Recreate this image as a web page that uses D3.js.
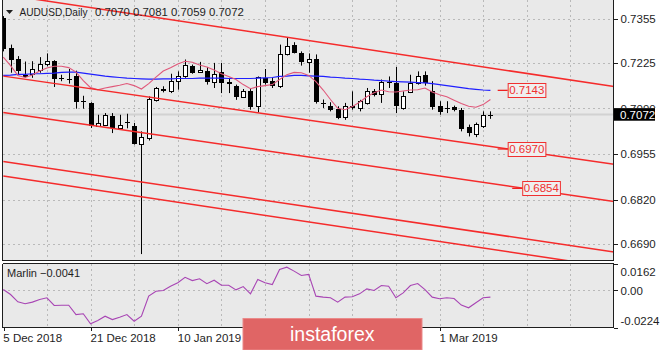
<!DOCTYPE html>
<html>
<head>
<meta charset="utf-8">
<script src="https://cdn.jsdelivr.net/npm/d3@7"></script>
<style>
  body { margin: 0; background: #ffffff; }
  svg text { font-family: "Liberation Sans", Arial, sans-serif; }
</style>
</head>
<body>
<svg id="chart" width="665" height="350"></svg>
<script>
// ---- AUDUSD daily bars ----
const dates = [
  "2018-12-05","2018-12-06","2018-12-07","2018-12-10","2018-12-11","2018-12-12","2018-12-13","2018-12-14",
  "2018-12-17","2018-12-18","2018-12-19","2018-12-20","2018-12-21","2018-12-24","2018-12-26","2018-12-27",
  "2018-12-28","2018-12-31","2019-01-02","2019-01-03","2019-01-04","2019-01-07","2019-01-08","2019-01-09",
  "2019-01-10","2019-01-11","2019-01-14","2019-01-15","2019-01-16","2019-01-17","2019-01-18","2019-01-21",
  "2019-01-22","2019-01-23","2019-01-24","2019-01-25","2019-01-28","2019-01-29","2019-01-30","2019-01-31",
  "2019-02-01","2019-02-04","2019-02-05","2019-02-06","2019-02-07","2019-02-08","2019-02-11","2019-02-12",
  "2019-02-13","2019-02-14","2019-02-15","2019-02-18","2019-02-19","2019-02-20","2019-02-21","2019-02-22",
  "2019-02-25","2019-02-26","2019-02-27","2019-02-28","2019-03-01","2019-03-04","2019-03-05","2019-03-06",
  "2019-03-07","2019-03-08","2019-03-11","2019-03-12"
];
const opens = [
  0.7357,0.7269,0.7236,0.7189,0.7192,0.7204,0.7221,0.7229,0.7180,0.7178,0.7184,0.7114,0.7106,0.7039,0.7042,0.7066,
  0.7031,0.7049,0.7037,0.6985,0.7002,0.7115,0.7148,0.7140,0.7172,0.7184,0.7214,0.7197,0.7201,0.7167,0.7196,0.7168,
  0.7157,0.7124,0.7142,0.7096,0.7180,0.7170,0.7155,0.7249,0.7278,0.7254,0.7227,0.7236,0.7107,0.7098,0.7088,0.7064,
  0.7096,0.7091,0.7106,0.7140,0.7133,0.7168,0.7165,0.7091,0.7137,0.7165,0.7189,0.7140,0.7096,0.7090,0.7093,0.7086,
  0.7035,0.7014,0.7037,0.7070
];
const highs = [
  0.7362,0.7278,0.7244,0.7228,0.7229,0.7241,0.7252,0.7232,0.7189,0.7206,0.7201,0.7127,0.7108,0.7071,0.7076,0.7076,
  0.7071,0.7074,0.7047,0.7022,0.7125,0.7153,0.7155,0.7192,0.7199,0.7234,0.7219,0.7227,0.7212,0.7224,0.7224,0.7180,
  0.7160,0.7147,0.7150,0.7184,0.7206,0.7180,0.7278,0.7298,0.7285,0.7258,0.7252,0.7249,0.7116,0.7108,0.7096,0.7106,
  0.7140,0.7115,0.7150,0.7147,0.7175,0.7184,0.7212,0.7140,0.7189,0.7199,0.7199,0.7170,0.7111,0.7111,0.7098,0.7091,
  0.7042,0.7048,0.7081,0.7081
];
const lows = [
  0.7258,0.7195,0.7189,0.7180,0.7180,0.7195,0.7214,0.7153,0.7170,0.7163,0.7089,0.7089,0.7032,0.7038,0.7039,0.7017,
  0.7030,0.7031,0.6983,0.6660,0.6995,0.7110,0.7137,0.7135,0.7145,0.7180,0.7192,0.7195,0.7160,0.7150,0.7135,0.7135,
  0.7115,0.7121,0.7086,0.7078,0.7160,0.7150,0.7150,0.7246,0.7252,0.7216,0.7195,0.7104,0.7091,0.7081,0.7058,0.7056,
  0.7086,0.7081,0.7101,0.7125,0.7106,0.7150,0.7076,0.7086,0.7135,0.7160,0.7157,0.7086,0.7071,0.7076,0.7081,0.7022,
  0.7007,0.7005,0.7032,0.7059
];
const closes = [
  0.7266,0.7234,0.7199,0.7183,0.7206,0.7221,0.7229,0.7177,0.7176,0.7177,0.7108,0.7111,0.7037,0.7047,0.7070,0.7032,
  0.7040,0.7051,0.6985,0.7004,0.7118,0.7149,0.7142,0.7172,0.7184,0.7219,0.7195,0.7204,0.7168,0.7192,0.7165,0.7162,
  0.7122,0.7140,0.7093,0.7182,0.7165,0.7157,0.7249,0.7275,0.7254,0.7226,0.7236,0.7108,0.7105,0.7086,0.7061,0.7098,
  0.7090,0.7112,0.7140,0.7130,0.7167,0.7170,0.7096,0.7125,0.7165,0.7184,0.7165,0.7093,0.7078,0.7092,0.7084,0.7029,
  0.7017,0.7044,0.7069,0.7072
];

// ---- moving averages (slow = blue, fast = crimson) ----
const maSlow = [
  0.7187,0.7188,0.7190,0.7190,0.7192,0.7192,0.7193,0.7194,0.7196,0.7197,0.7197,0.7194,0.7191,0.7188,0.7185,0.7183,
  0.7181,0.7179,0.7178,0.7177,0.7176,0.7176,0.7177,0.7177,0.7178,0.7178,0.7178,0.7179,0.7179,0.7179,0.7179,0.7178,
  0.7178,0.7178,0.7178,0.7179,0.7180,0.7181,0.7184,0.7185,0.7187,0.7187,0.7186,0.7185,0.7184,0.7182,0.7181,0.7179,
  0.7178,0.7176,0.7175,0.7173,0.7172,0.7170,0.7169,0.7168,0.7167,0.7166,0.7165,0.7163,0.7160,0.7157,0.7154,0.7151,
  0.7148,0.7146,0.7144,0.7143
];
const maFast = [
  0.7241,0.7216,0.7187,0.7181,0.7188,0.7200,0.7209,0.7214,0.7214,0.7210,0.7197,0.7172,0.7151,0.7145,0.7150,0.7154,
  0.7158,0.7163,0.7157,0.7147,0.7163,0.7182,0.7200,0.7210,0.7221,0.7229,0.7226,0.7218,0.7212,0.7203,0.7192,0.7184,
  0.7175,0.7160,0.7148,0.7154,0.7157,0.7160,0.7175,0.7189,0.7196,0.7195,0.7187,0.7169,0.7144,0.7116,0.7090,0.7086,
  0.7095,0.7108,0.7124,0.7136,0.7144,0.7139,0.7138,0.7141,0.7144,0.7145,0.7150,0.7138,0.7130,0.7124,0.7114,0.7104,
  0.7096,0.7093,0.7101,0.7116
];

// ---- Marlin oscillator ----
const marlin = [
  0.0005,-0.0025,-0.0069,-0.0081,-0.0071,-0.0055,-0.0045,-0.0091,-0.0090,-0.0090,-0.0146,-0.0141,-0.0202,-0.0182,-0.0156,-0.0176,
  -0.0162,-0.0146,-0.0186,-0.0156,-0.0035,-0.0005,-0.0001,0.0025,0.0046,0.0079,0.0059,0.0070,0.0040,0.0061,0.0031,0.0031,
  0.0003,0.0023,-0.0021,0.0066,0.0046,0.0035,0.0126,0.0140,0.0116,0.0090,0.0096,-0.0035,-0.0041,-0.0045,-0.0071,-0.0041,
  -0.0039,-0.0021,0.0009,-0.0001,0.0029,0.0025,-0.0045,-0.0015,0.0029,0.0041,0.0005,-0.0041,-0.0051,-0.0045,-0.0049,-0.0089,
  -0.0105,-0.0075,-0.0045,-0.0041
];

// ---- axis ticks ----
const priceTicks = [0.7355, 0.7225, 0.7090, 0.6955, 0.6820, 0.6690];
const marlinTicks = [0.0162, 0, -0.0224];
const marlinTickLabels = ["0.0162", "0.00", "-0.0224"];
const dateTickBars = [0, 12, 24, 60];

// ---- descending channel lines: price at bar 0 and at bar 84 ----
const channelStart = [0.7426, 0.7185, 0.7078, 0.6933, 0.6890];
const channelEnd   = [0.7154, 0.6925, 0.6815, 0.6666, 0.6620];
const channelBars = [0, 84];

// ---- price tags ----
const tagValues = [0.7143, 0.6970, 0.6854];
const tagBars = [68, 68, 70];

// ================= drawing =================
const svg = d3.select("#chart");
const mainBox = { left: 2.5, right: 613.5, top: 0, bottom: 260.5 };
const subBox = { top: 263.5, bottom: 327.5 };
const chartBg = "#e9e9e9";
const ink = "#1e1e1e";

const x = d3.scaleLinear().domain([0, 84]).range([3.3, 614]);
const y = d3.scaleLinear().domain([0.6690, 0.7355]).range([243.9, 18.5]);
const ym = d3.scaleLinear().domain([-0.0224, 0.0162]).range([subBox.bottom, subBox.top]);

svg.append("rect").attr("width", 665).attr("height", 350).attr("fill", "#ffffff");

// panel backgrounds
svg.append("rect").attr("x", mainBox.left).attr("y", mainBox.top)
  .attr("width", mainBox.right - mainBox.left).attr("height", mainBox.bottom - mainBox.top)
  .attr("fill", chartBg);
svg.append("rect").attr("x", mainBox.left).attr("y", subBox.top)
  .attr("width", mainBox.right - mainBox.left).attr("height", subBox.bottom - subBox.top)
  .attr("fill", chartBg);

const defs = svg.append("defs");
defs.append("clipPath").attr("id", "clipMain").append("rect")
  .attr("x", mainBox.left).attr("y", mainBox.top)
  .attr("width", mainBox.right - mainBox.left).attr("height", mainBox.bottom - mainBox.top);
defs.append("clipPath").attr("id", "clipSub").append("rect")
  .attr("x", mainBox.left).attr("y", subBox.top)
  .attr("width", mainBox.right - mainBox.left).attr("height", subBox.bottom - subBox.top);

const gMain = svg.append("g").attr("clip-path", "url(#clipMain)");
const gSub = svg.append("g").attr("clip-path", "url(#clipSub)");

const px = v => Math.round(v) + 0.5;
const gridStyle = sel => sel.attr("stroke", "#b9b9b9").attr("stroke-width", 1)
  .attr("stroke-dasharray", "2,3").attr("shape-rendering", "crispEdges");

// vertical grid in both panels
const gridBars = d3.range(6, 84, 6);
gMain.selectAll("line.vg").data(gridBars).join("line").attr("class", "vg")
  .attr("x1", d => px(x(d))).attr("x2", d => px(x(d)))
  .attr("y1", mainBox.top).attr("y2", mainBox.bottom).call(gridStyle);
gSub.selectAll("line.vg").data(gridBars).join("line").attr("class", "vg")
  .attr("x1", d => px(x(d))).attr("x2", d => px(x(d)))
  .attr("y1", subBox.top).attr("y2", subBox.bottom).call(gridStyle);

// horizontal grid
gMain.selectAll("line.hg").data(priceTicks).join("line").attr("class", "hg")
  .attr("x1", mainBox.left).attr("x2", mainBox.right)
  .attr("y1", d => px(y(d))).attr("y2", d => px(y(d))).call(gridStyle);
gSub.append("line").attr("x1", mainBox.left).attr("x2", mainBox.right)
  .attr("y1", px(ym(0))).attr("y2", px(ym(0))).call(gridStyle);

// last-price line
const lastClose = closes[closes.length - 1];
gMain.append("line").attr("x1", mainBox.left).attr("x2", mainBox.right)
  .attr("y1", y(lastClose)).attr("y2", y(lastClose))
  .attr("stroke", "#d2d2d2").attr("stroke-width", 2);

// candles
const candles = gMain.append("g");
dates.forEach((d, i) => {
  const cx = px(x(i));
  const o = opens[i], c = closes[i], h = highs[i], l = lows[i];
  candles.append("line").attr("x1", cx).attr("x2", cx)
    .attr("y1", y(h)).attr("y2", y(l)).attr("stroke", "#000").attr("stroke-width", 1);
  const top = y(Math.max(o, c)), bot = y(Math.min(o, c));
  if (bot - top < 1.5) {
    candles.append("line").attr("x1", cx - 2.5).attr("x2", cx + 2.5)
      .attr("y1", px((top + bot) / 2)).attr("y2", px((top + bot) / 2))
      .attr("stroke", "#000").attr("stroke-width", 1);
  } else if (c >= o) {
    candles.append("rect").attr("x", cx - 2).attr("y", Math.round(top) + 0.5)
      .attr("width", 4).attr("height", Math.max(1, Math.round(bot) - Math.round(top)))
      .attr("fill", "#ffffff").attr("stroke", "#000").attr("stroke-width", 1);
  } else {
    candles.append("rect").attr("x", cx - 2.5).attr("y", Math.round(top))
      .attr("width", 5).attr("height", Math.max(1, Math.round(bot) - Math.round(top)))
      .attr("fill", "#000");
  }
});

// moving averages
const maLine = d3.line().x((d, i) => x(i)).y(d => y(d));
gMain.append("path").attr("d", maLine(maSlow)).attr("fill", "none")
  .attr("stroke", "#1f1fff").attr("stroke-width", 1.2);
gMain.append("path").attr("d", maLine(maFast)).attr("fill", "none")
  .attr("stroke", "#e0587a").attr("stroke-width", 1.1);

// channel lines
channelStart.forEach((p0, k) => {
  gMain.append("line")
    .attr("x1", x(channelBars[0])).attr("y1", y(p0))
    .attr("x2", x(channelBars[1])).attr("y2", y(channelEnd[k]))
    .attr("stroke", "#f52b2b").attr("stroke-width", 1.5);
});

// price tags
tagValues.forEach((v, k) => {
  const x0 = x(tagBars[k]);
  const yy = y(v);
  gMain.append("line").attr("x1", x0).attr("x2", x0 + 10)
    .attr("y1", yy).attr("y2", yy).attr("stroke", "#ee2222").attr("stroke-width", 1.3);
  const g = gMain.append("g");
  const r = g.append("rect");
  const t = g.append("text").attr("x", x0 + 11.5).attr("y", yy).attr("dy", "0.36em")
    .attr("font-size", 11.5).attr("fill", "#f03030").text(d3.format(".4f")(v));
  const w = t.node().getComputedTextLength();
  r.attr("x", x0 + 10.5).attr("y", Math.round(yy - 7) + 0.5).attr("width", w + 2.5).attr("height", 14)
    .attr("fill", "#efefef").attr("stroke", "#f03030").attr("stroke-width", 1);
});

// Marlin line
gSub.append("path")
  .attr("d", d3.line().x((d, i) => x(i)).y(d => ym(d))(marlin))
  .attr("fill", "none").attr("stroke", "#a845b4").attr("stroke-width", 1.1);

// panel borders
const border = (x1, y1, x2, y2) => svg.append("line").attr("x1", x1).attr("y1", y1)
  .attr("x2", x2).attr("y2", y2).attr("stroke", ink).attr("stroke-width", 1)
  .attr("shape-rendering", "crispEdges");
border(mainBox.left, mainBox.top, mainBox.left, mainBox.bottom);
border(mainBox.right, mainBox.top, mainBox.right, mainBox.bottom);
border(mainBox.left, mainBox.bottom, mainBox.right, mainBox.bottom);
border(mainBox.left, subBox.top, mainBox.right, subBox.top);
border(mainBox.left, subBox.bottom, mainBox.right, subBox.bottom);
border(mainBox.left, subBox.top, mainBox.left, subBox.bottom);
border(mainBox.right, subBox.top, mainBox.right, subBox.bottom);

// right price axis; the tick label under the current-price marker is clipped around it
const lastClose2 = lastClose;
const yLast = y(lastClose2);
defs.append("clipPath").attr("id", "clipAxis").append("path")
  .attr("d", `M-5,0 H60 V${yLast - 6.3} H-5 Z M-5,${yLast + 6.3} H60 V262 H-5 Z`);
const axisStyle = g => {
  g.select(".domain").remove();
  g.selectAll(".tick line").attr("stroke", ink).attr("shape-rendering", "crispEdges");
  g.selectAll(".tick text").attr("fill", ink).attr("font-size", 11.5)
    .attr("font-family", "\"Liberation Sans\", Arial, sans-serif");
};
svg.append("g").attr("transform", `translate(${mainBox.right},0)`)
  .append("g").attr("clip-path", "url(#clipAxis)")
  .call(d3.axisRight(y).tickValues(priceTicks).tickFormat(d3.format(".4f")).tickSize(4).tickPadding(3))
  .call(axisStyle);

// current price marker
svg.append("rect").attr("x", mainBox.right + 0.5).attr("y", yLast - 6.3).attr("width", 41).attr("height", 12.6)
  .attr("fill", "#000");
svg.append("text").attr("x", 620).attr("y", yLast).attr("dy", "0.36em")
  .attr("font-size", 11.5).attr("fill", "#ffffff").text(d3.format(".4f")(lastClose2));

// Marlin axis
const subAxis = svg.append("g").attr("transform", `translate(${mainBox.right},0)`)
  .call(d3.axisRight(ym).tickValues(marlinTicks).tickFormat((d, i) => marlinTickLabels[i]).tickSize(4).tickPadding(3))
  .call(axisStyle);
subAxis.selectAll(".tick").filter(d => d === marlinTicks[0]).select("text").attr("dy", "1.0em");
subAxis.selectAll(".tick").filter(d => d === marlinTicks[2]).select("text").attr("dy", "-0.25em");

// date axis
const parseDate = d3.timeParse("%Y-%m-%d");
const fmtDate = d3.timeFormat("%-d %b %Y");
const xAxis = svg.append("g").attr("transform", `translate(0,${subBox.bottom})`)
  .call(d3.axisBottom(x).tickValues(dateTickBars).tickFormat(i => fmtDate(parseDate(dates[i]))).tickSize(3).tickPadding(3))
  .call(axisStyle);
xAxis.selectAll(".tick line").attr("x1", 0.5).attr("x2", 0.5);
xAxis.selectAll(".tick text").attr("text-anchor", "start").attr("x", -0.5);

// header
svg.append("path").attr("d", "M6,10 L13,10 L9.5,14 Z").attr("fill", ink);
svg.append("text").attr("x", 19.5).attr("y", 16).attr("font-size", 11).attr("fill", ink)
  .attr("textLength", 68).attr("lengthAdjust", "spacingAndGlyphs").text("AUDUSD,Daily");
const last = opens.length - 1;
svg.append("text").attr("x", 95).attr("y", 16).attr("font-size", 11.4).attr("fill", ink)
  .text([opens[last], highs[last], lows[last], closes[last]].map(d3.format(".4f")).join(" "));

// oscillator caption
svg.append("text").attr("x", 7).attr("y", 276.5).attr("font-size", 11).attr("fill", ink)
  .text("Marlin " + d3.format(".4f")(marlin[marlin.length - 1]));

// brand badge
svg.append("rect").attr("x", 243).attr("y", 318.5).attr("width", 179).attr("height", 31.5)
  .attr("fill", "#e06565").attr("stroke", "#ea8a8a").attr("stroke-width", 1);
svg.append("text").attr("x", 290).attr("y", 340.5).attr("font-size", 19.5)
  .attr("font-family", "Roboto, \"Open Sans\", sans-serif").attr("font-weight", 300)
  .attr("fill", "#ffffff").text("instaforex");
</script>
</body>
</html>
